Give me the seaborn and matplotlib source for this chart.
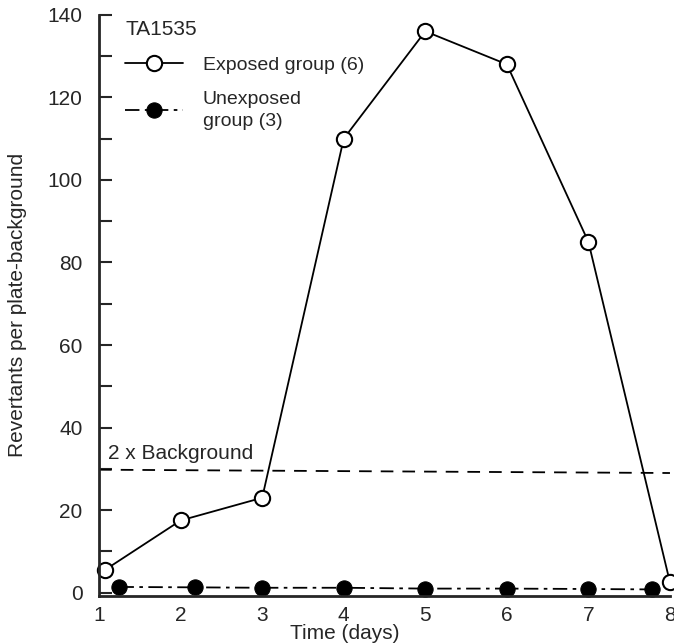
import matplotlib
matplotlib.use("Agg")
import matplotlib.pyplot as plt
import seaborn as sns
import pandas as pd
from matplotlib.ticker import MultipleLocator

exposed_x = [1.07, 2.0, 3.0, 4.0, 5.0, 6.0, 7.0, 8.0]
exposed_y = [5.5, 17.5, 23.0, 110.0, 136.0, 128.0, 85.0, 2.5]
unexposed_x = [1.25, 2.18, 3.0, 4.0, 5.0, 6.0, 7.0, 7.78]
unexposed_y = [1.4, 1.3, 1.2, 1.2, 1.0, 1.0, 0.9, 0.8]
background_x = [1.0, 8.0]
background_y = [29.8, 29.0]
x_ticks = [1, 2, 3, 4, 5, 6, 7, 8]
y_ticks = [0, 20, 40, 60, 80, 100, 120, 140]

sns.set_style("ticks")
plt.rcParams['font.family'] = ['Liberation Sans', 'DejaVu Sans']

fig = plt.figure(figsize=(6.74, 6.44), dpi=100)
ax = fig.add_axes([0.147, 0.0745, 0.847, 0.9025])

df_exp = pd.DataFrame({"x": exposed_x, "y": exposed_y})
df_unexp = pd.DataFrame({"x": unexposed_x, "y": unexposed_y})
df_bg = pd.DataFrame({"x": background_x, "y": background_y})

sns.lineplot(data=df_bg, x="x", y="y", ax=ax, color="black", lw=1.3,
             linestyle=(0, (7, 5)), label="_nolegend_")
sns.lineplot(data=df_exp, x="x", y="y", ax=ax, color="black", lw=1.3,
             marker="o", markersize=11, markerfacecolor="white",
             markeredgecolor="black", markeredgewidth=1.5,
             label="Exposed group (6)", clip_on=False)
sns.lineplot(data=df_unexp, x="x", y="y", ax=ax, color="black", lw=1.3,
             linestyle=(0, (8, 3, 2, 3)), marker="o", markersize=11,
             markerfacecolor="black", markeredgecolor="black",
             label="Unexposed\ngroup (3)", clip_on=False)

ax.text(1.11, 31.5, "2 x Background", fontsize=15, ha="left", va="bottom")

ax.set_xlim(1, 8)
ax.set_ylim(-0.8, 140)
ax.set_xticks(x_ticks)
ax.set_yticks(y_ticks)
ax.yaxis.set_minor_locator(MultipleLocator(10))
ax.tick_params(axis="y", which="both", direction="in", length=9.5, width=1.5,
               labelsize=15, pad=12)
ax.tick_params(axis="x", which="both", direction="in", length=0,
               labelsize=15, pad=7)
for s in ["top", "right"]:
    ax.spines[s].set_visible(False)
for s in ["left", "bottom"]:
    ax.spines[s].set_linewidth(2)

ax.set_xlabel("Time (days)", fontsize=15, labelpad=0)
ax.xaxis.set_label_coords(0.43, -0.048)
ax.set_ylabel("Revertants per plate-background", fontsize=15, labelpad=0)
ax.yaxis.set_label_coords(-0.126, 0.5)

leg = ax.legend(loc="upper left", bbox_to_anchor=(0.015, 1.022), frameon=False,
                title="TA1535", alignment="left", fontsize=14,
                title_fontsize=15, handlelength=3, labelspacing=0.9,
                handletextpad=1.0)
for t in leg.get_texts():
    t.set_linespacing(1.35)

fig.savefig("out.png", dpi=100, facecolor="white")
